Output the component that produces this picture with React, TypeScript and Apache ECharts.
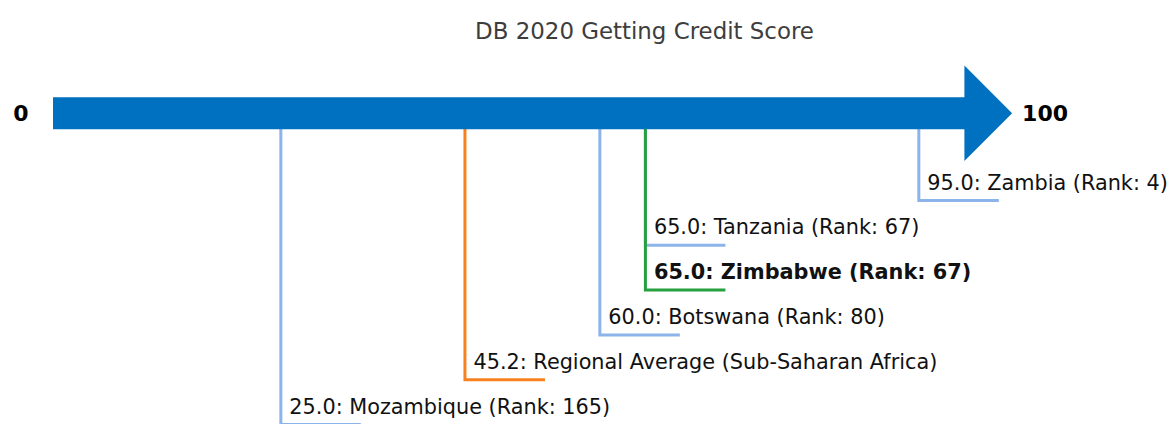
import React, { useEffect, useRef } from "react";
import * as echarts from "echarts";

const titleText = "DB 2020 Getting Credit Score";
const names = ["Zambia", "Tanzania", "Zimbabwe", "Botswana", "Regional Average (Sub-Saharan Africa)", "Mozambique"];
const scores = [95.0, 65.0, 65.0, 60.0, 45.2, 25.0];
const ranks: (number | null)[] = [4, 67, 67, 80, null, 165];
const kinds = ["peer", "peer", "focus", "peer", "regional", "peer"];
const axisMin = 0;
const axisMax = 100;

const FONT = "'DejaVu Sans', Verdana, sans-serif";
const colorFor: Record<string, string> = {
  peer: "#8cb4ea",
  focus: "#27a040",
  regional: "#f7811e",
};

export default function App() {
  const ref = useRef<HTMLDivElement>(null);
  useEffect(() => {
    document.body.style.margin = "0";
    if (!ref.current) return;
    const chart = echarts.init(ref.current, undefined, { renderer: "svg" });
    const PX_PER_LEVEL = 44.8;
    const BAR_CENTER_PX = 113.3;
    const H = 424;
    const firstLevel = (200.5 - BAR_CENTER_PX) / PX_PER_LEVEL;
    const barHalf = 16;
    const headHalf = 47.7;
    const headLen = 47.7;

    const leaderData = scores.map((s, i) => [s, firstLevel + i, i]);

    chart.setOption({
      animation: false,
      title: {
        text: titleText,
        left: 639.5,
        top: 14,
        textAlign: "center",
        textStyle: { fontFamily: FONT, fontSize: 22.9, fontWeight: "normal", color: "#3d3d3d" },
      },
      grid: { left: 53, width: 911.4, top: 0, height: H },
      xAxis: { type: "value", min: axisMin, max: axisMax, show: false },
      yAxis: {
        type: "value",
        inverse: true,
        min: -BAR_CENTER_PX / PX_PER_LEVEL,
        max: (H - BAR_CENTER_PX) / PX_PER_LEVEL,
        show: false,
      },
      series: [
        {
          type: "custom",
          clip: false,
          z: 2,
          data: leaderData,
          renderItem: (params: any, api: any) => {
            const i = api.value(2);
            const s = api.value(0);
            const p0 = api.coord([s, 0]);
            const p1 = api.coord([s, api.value(1)]);
            const color = colorFor[kinds[i]];
            const rank = ranks[i];
            const label = `${scores[i].toFixed(1)}: ${names[i]}` + (rank != null ? ` (Rank: ${rank})` : "");
            return {
              type: "group",
              children: [
                {
                  type: "polyline",
                  shape: { points: [[p0[0], p0[1]], [p1[0], p1[1]], [p1[0] + 80, p1[1]]] },
                  style: { stroke: color, lineWidth: 3, fill: null },
                },
                {
                  type: "text",
                  style: {
                    text: label,
                    x: p1[0] + 8.5,
                    y: p1[1] - 18,
                    align: "left",
                    verticalAlign: "middle",
                    fill: "#111",
                    fontFamily: FONT,
                    fontSize: 20.8,
                    fontWeight: kinds[i] === "focus" ? "bold" : "normal",
                  },
                },
              ],
            };
          },
        },
        {
          type: "custom",
          clip: false,
          z: 5,
          data: [[axisMin, axisMax]],
          renderItem: (params: any, api: any) => {
            const a = api.coord([api.value(0), 0]);
            const b = api.coord([api.value(1), 0]);
            const y = a[1];
            return {
              type: "group",
              children: [
                {
                  type: "polygon",
                  shape: {
                    points: [
                      [a[0], y - barHalf],
                      [b[0], y - barHalf],
                      [b[0], y - headHalf],
                      [b[0] + headLen, y],
                      [b[0], y + headHalf],
                      [b[0], y + barHalf],
                      [a[0], y + barHalf],
                    ],
                  },
                  style: { fill: "#0070c0" },
                },
                {
                  type: "text",
                  style: {
                    text: String(api.value(0)),
                    x: a[0] - 32,
                    y: y,
                    align: "center",
                    verticalAlign: "middle",
                    fill: "#000",
                    fontFamily: FONT,
                    fontSize: 22,
                    fontWeight: "bold",
                  },
                },
                {
                  type: "text",
                  style: {
                    text: String(api.value(1)),
                    x: b[0] + headLen + 10,
                    y: y,
                    align: "left",
                    verticalAlign: "middle",
                    fill: "#000",
                    fontFamily: FONT,
                    fontSize: 22,
                    fontWeight: "bold",
                  },
                },
              ],
            };
          },
        },
      ],
    });
    return () => chart.dispose();
  }, []);
  return <div ref={ref} style={{ width: 1171, height: 424 }} />;
}
